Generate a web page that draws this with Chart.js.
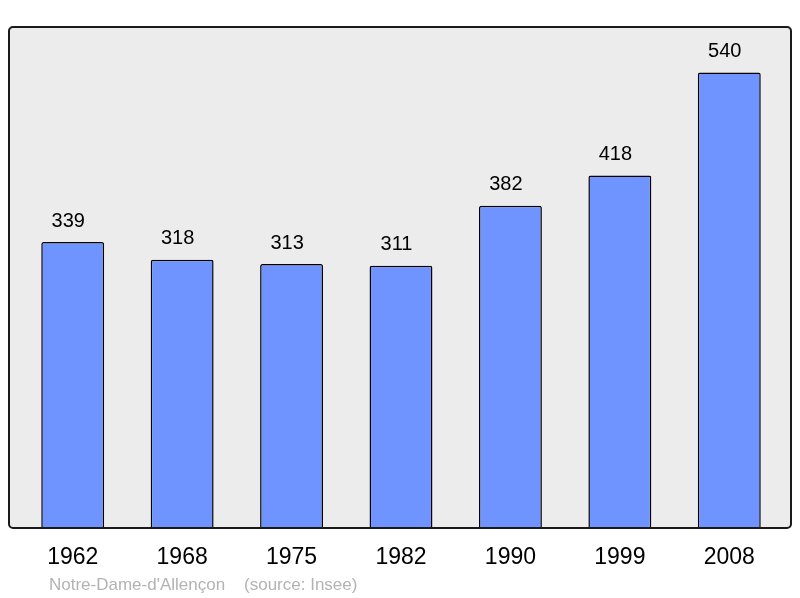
<!DOCTYPE html>
<html><head><meta charset="utf-8">
<script src="https://cdn.jsdelivr.net/npm/chart.js@4/dist/chart.umd.min.js"></script>
<style>html,body{margin:0;padding:0;background:#fff;}#wrap{width:800px;height:598px;}</style>
</head><body><div id="wrap"><canvas id="c" width="800" height="598"></canvas></div>
<script>
const years = ['1962','1968','1975','1982','1990','1999','2008'];
const population = [339,318,313,311,382,418,540];
const caption = "Notre-Dame-d'Allençon    (source: Insee)";

const framePlugin = {
  id: 'frame',
  beforeDatasetsDraw(chart) {
    const {ctx, chartArea: a} = chart;
    const x0 = a.left - 9, x1 = a.right + 7, y0 = a.top, y1 = a.bottom;
    ctx.save();
    ctx.beginPath();
    ctx.roundRect(x0, y0, x1 - x0, y1 - y0, 4);
    ctx.fillStyle = '#ececec';
    ctx.fill();
    ctx.restore();
  },
  afterDatasetsDraw(chart) {
    const {ctx, chartArea: a} = chart;
    const x0 = a.left - 9, x1 = a.right + 7, y0 = a.top, y1 = a.bottom;
    ctx.save();
    ctx.beginPath();
    ctx.roundRect(x0, y0, x1 - x0, y1 - y0, 4);
    ctx.lineWidth = 2;
    ctx.strokeStyle = '#1a1a1a';
    ctx.stroke();
    ctx.fillStyle = '#000';
    ctx.font = '20px "Liberation Sans", Arial, sans-serif';
    ctx.textAlign = 'center';
    ctx.textBaseline = 'middle';
    const meta = chart.getDatasetMeta(0);
    meta.data.forEach((bar, i) => {
      ctx.fillText(String(population[i]), bar.x - 4.5, bar.y - 21);
    });
    ctx.fillStyle = '#b3b3b3';
    ctx.font = '17px "Liberation Sans", Arial, sans-serif';
    ctx.textAlign = 'left';
    ctx.fillText(caption, 49, 585);
    ctx.restore();
  }
};

new Chart(document.getElementById('c'), {
  type: 'bar',
  data: {
    labels: years,
    datasets: [{
      data: population,
      backgroundColor: '#7094ff',
      borderColor: '#000',
      borderWidth: 1.5,
      borderRadius: 2,
      borderSkipped: 'bottom',
      barPercentage: 0.575,
      categoryPercentage: 1
    }]
  },
  options: {
    responsive: false,
    animation: false,
    layout: {padding: {left: 18, right: 16, top: 27, bottom: 0}},
    plugins: {legend: {display: false}, tooltip: {enabled: false}},
    scales: {
      y: {display: false, min: 0, max: 594},
      x: {
        grid: {display: false, drawTicks: false},
        border: {display: false},
        ticks: {color: '#000', font: {size: 23, family: '"Liberation Sans", Arial, sans-serif'}, padding: 16},
        afterFit(scale) { scale.height = 70; }
      }
    }
  },
  plugins: [framePlugin]
});
</script>
</body></html>
